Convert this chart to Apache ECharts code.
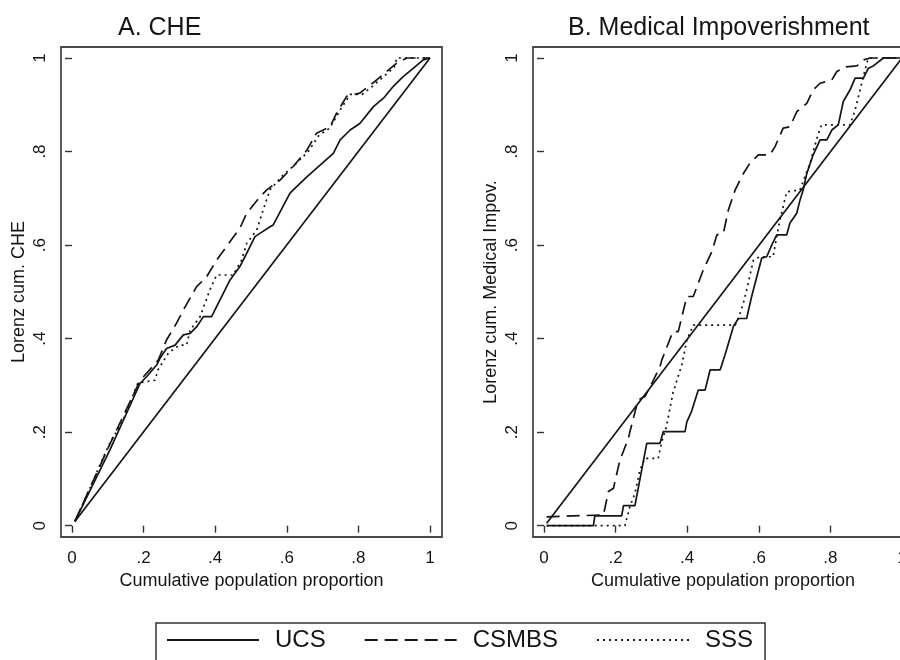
<!DOCTYPE html>
<html>
<head>
<meta charset="utf-8">
<script src="https://cdn.jsdelivr.net/npm/echarts@6/dist/echarts.min.js"></script>
<style>
  html, body { margin: 0; padding: 0; background: #fff; overflow: hidden; }
  #main { width: 920px; height: 660px; }
</style>
</head>
<body>
<div id="main"></div>
<script>
const groupNames = ['UCS', 'CSMBS', 'SSS'];
const panelTitles = ['A. CHE', 'B. Medical Impoverishment'];
const yTitles = ['Lorenz cum. CHE', 'Lorenz cum. Medical Impov.'];
const xTitle = 'Cumulative population proportion';
const tickValues = [0, 0.2, 0.4, 0.6, 0.8, 1];

// panel A: catastrophic health expenditure
const cheEquality = [[0.008, 0.009], [1, 1]];
const cheUcs = [
  [0.008, 0.009], [0.106, 0.162], [0.19, 0.304], [0.209, 0.319], [0.237, 0.344],
  [0.246, 0.358], [0.264, 0.379], [0.288, 0.386], [0.311, 0.408], [0.33, 0.411],
  [0.348, 0.425], [0.367, 0.447], [0.39, 0.447], [0.432, 0.511], [0.441, 0.525],
  [0.469, 0.554], [0.483, 0.575], [0.511, 0.618], [0.525, 0.625], [0.553, 0.639],
  [0.562, 0.643], [0.609, 0.711], [0.618, 0.718], [0.656, 0.746], [0.693, 0.771],
  [0.73, 0.796], [0.749, 0.825], [0.777, 0.846], [0.804, 0.86], [0.842, 0.896],
  [0.87, 0.914], [0.897, 0.939], [0.925, 0.96], [0.953, 0.978], [0.981, 0.996],
  [1, 1]
];
const cheCsmbs = [
  [0.008, 0.009], [0.1, 0.165], [0.19, 0.31], [0.241, 0.354], [0.264, 0.397],
  [0.292, 0.433], [0.316, 0.468], [0.348, 0.511], [0.376, 0.532], [0.404, 0.568],
  [0.441, 0.607], [0.469, 0.636], [0.488, 0.668], [0.525, 0.703], [0.544, 0.718],
  [0.581, 0.739], [0.618, 0.768], [0.656, 0.803], [0.683, 0.839], [0.721, 0.853],
  [0.739, 0.882], [0.767, 0.918], [0.804, 0.925], [0.851, 0.953], [0.879, 0.971],
  [0.907, 0.989], [0.935, 1], [1, 1]
];
const cheSss = [
  [0.008, 0.009], [0.05, 0.08], [0.078, 0.13], [0.106, 0.177], [0.143, 0.226],
  [0.184, 0.305], [0.232, 0.311], [0.24, 0.333], [0.27, 0.37], [0.3, 0.386],
  [0.32, 0.386], [0.33, 0.418], [0.358, 0.447], [0.385, 0.504], [0.404, 0.536],
  [0.45, 0.536], [0.474, 0.568], [0.488, 0.604], [0.516, 0.632], [0.534, 0.675],
  [0.553, 0.718], [0.59, 0.75], [0.62, 0.77], [0.66, 0.8], [0.69, 0.835],
  [0.72, 0.85], [0.75, 0.89], [0.777, 0.922], [0.81, 0.922], [0.84, 0.94],
  [0.87, 0.96], [0.9, 0.98], [0.907, 1], [1, 1]
];

// panel B: medical impoverishment
const impEquality = [[0.0075, 0.005], [1, 1]];
const impUcs = [
  [0.0075, 0], [0.138, 0], [0.142, 0.021], [0.217, 0.021], [0.222, 0.043],
  [0.254, 0.043], [0.287, 0.176], [0.324, 0.176], [0.333, 0.201], [0.394, 0.201],
  [0.399, 0.222], [0.412, 0.244], [0.431, 0.29], [0.45, 0.29], [0.464, 0.333],
  [0.492, 0.333], [0.501, 0.354], [0.51, 0.376], [0.529, 0.426], [0.543, 0.443],
  [0.566, 0.443], [0.58, 0.49], [0.608, 0.572], [0.622, 0.575], [0.636, 0.6],
  [0.65, 0.622], [0.678, 0.622], [0.687, 0.647], [0.706, 0.668], [0.715, 0.696],
  [0.724, 0.718], [0.734, 0.753], [0.752, 0.793], [0.771, 0.825], [0.79, 0.825],
  [0.804, 0.846], [0.822, 0.857], [0.836, 0.907], [0.855, 0.932], [0.869, 0.957],
  [0.892, 0.957], [0.906, 0.978], [0.92, 0.983], [0.948, 1], [1, 1]
];
const impCsmbs = [
  [0.0075, 0.019], [0.166, 0.023], [0.18, 0.073], [0.194, 0.08], [0.212, 0.14],
  [0.236, 0.187], [0.24, 0.201], [0.263, 0.269], [0.282, 0.276], [0.301, 0.304],
  [0.324, 0.34], [0.329, 0.354], [0.36, 0.415], [0.375, 0.415], [0.399, 0.49],
  [0.417, 0.49], [0.445, 0.547], [0.469, 0.586], [0.483, 0.622], [0.501, 0.625],
  [0.515, 0.675], [0.534, 0.718], [0.557, 0.753], [0.575, 0.775], [0.599, 0.793],
  [0.631, 0.793], [0.645, 0.81], [0.668, 0.85], [0.687, 0.853], [0.706, 0.885],
  [0.734, 0.903], [0.752, 0.932], [0.771, 0.946], [0.804, 0.953], [0.818, 0.971],
  [0.841, 0.981], [0.874, 0.983], [0.893, 0.996], [0.911, 1], [1, 1]
];
const impSss = [
  [0.0075, 0], [0.226, 0], [0.24, 0.041], [0.254, 0.069], [0.268, 0.119],
  [0.282, 0.144], [0.319, 0.144], [0.329, 0.18], [0.342, 0.212], [0.36, 0.283],
  [0.385, 0.344], [0.399, 0.397], [0.417, 0.429], [0.534, 0.429], [0.543, 0.443],
  [0.557, 0.476], [0.566, 0.504], [0.585, 0.568], [0.603, 0.575], [0.64, 0.575],
  [0.65, 0.618], [0.659, 0.654], [0.668, 0.682], [0.678, 0.714], [0.715, 0.718],
  [0.743, 0.775], [0.761, 0.825], [0.775, 0.857], [0.855, 0.857], [0.869, 0.889],
  [0.883, 0.932], [0.897, 0.975], [0.906, 1], [1, 1]
];

const font = "'Liberation Sans', Arial, Helvetica, sans-serif";
const ink = '#151515';
const dashStyles = ['solid', [13, 7], [2, 4]];

const fmtTick = (v) => {
    if (v === 0) return '0';
    if (v === 1) return '1';
    return String(Math.round(v * 10) / 10).replace('0.', '.');
};

const makeX = (idx, min, max) => ({
    type: 'value', gridIndex: idx, min: min, max: max,
    name: xTitle, nameLocation: 'middle', nameGap: 34,
    nameTextStyle: {fontFamily: font, fontSize: 18, color: ink},
    axisLine: {show: false},
    axisTick: {show: true, length: 7, customValues: tickValues, lineStyle: {color: '#333', width: 1.4}},
    axisLabel: {customValues: tickValues, formatter: fmtTick, fontFamily: font, fontSize: 17, color: ink, margin: 13},
    splitLine: {show: false}
});

const makeY = (idx, title) => ({
    type: 'value', gridIndex: idx, min: -0.0242, max: 1.0235,
    name: title, nameLocation: 'middle', nameGap: 33,
    nameTextStyle: {fontFamily: font, fontSize: 18, color: ink},
    axisLine: {show: false},
    axisTick: {show: true, length: 7, customValues: tickValues, lineStyle: {color: '#333', width: 1.4}},
    axisLabel: {customValues: tickValues, formatter: fmtTick, rotate: 90, fontFamily: font, fontSize: 17, color: ink, margin: 12},
    splitLine: {show: false}
});

const makeLine = (name, data, idx, style) => ({
    name: name, type: 'line', data: data,
    xAxisIndex: idx, yAxisIndex: idx,
    symbol: 'none', animation: false,
    lineStyle: {color: ink, width: 1.7, type: style},
    itemStyle: {color: ink}
});

var myChart = echarts.init(document.getElementById('main'));

var option = {
    backgroundColor: '#fff',
    title: [
        {text: panelTitles[0], left: 118, top: 16, padding: 0,
            textStyle: {fontFamily: font, fontSize: 25, fontWeight: 'normal', color: ink}},
        {text: panelTitles[1], left: 568, top: 16, padding: 0,
            textStyle: {fontFamily: font, fontSize: 25, fontWeight: 'normal', color: ink}}
    ],
    grid: [
        {left: 61, top: 47, width: 381, height: 490, show: true, borderColor: '#4a4a4a', borderWidth: 1.8},
        {left: 533, top: 47, width: 380, height: 490, show: true, borderColor: '#4a4a4a', borderWidth: 1.8}
    ],
    xAxis: [makeX(0, -0.0307, 1.0335), makeX(1, -0.0307, 1.0307)],
    yAxis: [makeY(0, yTitles[0]), makeY(1, yTitles[1])],
    legend: {
        data: groupNames,
        left: 156, top: 623,
        orient: 'horizontal',
        padding: [5, 12, 24, 10],
        itemGap: 38,
        itemWidth: 92, itemHeight: 14,
        borderColor: '#333', borderWidth: 1.5,
        itemStyle: {opacity: 0},
        textStyle: {fontFamily: font, fontSize: 24, color: ink, padding: [0, 0, 0, 11]}
    },
    series: [
        makeLine('Equality A', cheEquality, 0, 'solid'),
        makeLine(groupNames[0], cheUcs, 0, dashStyles[0]),
        makeLine(groupNames[1], cheCsmbs, 0, dashStyles[1]),
        makeLine(groupNames[2], cheSss, 0, dashStyles[2]),
        makeLine('Equality B', impEquality, 1, 'solid'),
        makeLine(groupNames[0], impUcs, 1, dashStyles[0]),
        makeLine(groupNames[1], impCsmbs, 1, dashStyles[1]),
        makeLine(groupNames[2], impSss, 1, dashStyles[2])
    ]
};

myChart.setOption(option);
</script>
</body>
</html>
